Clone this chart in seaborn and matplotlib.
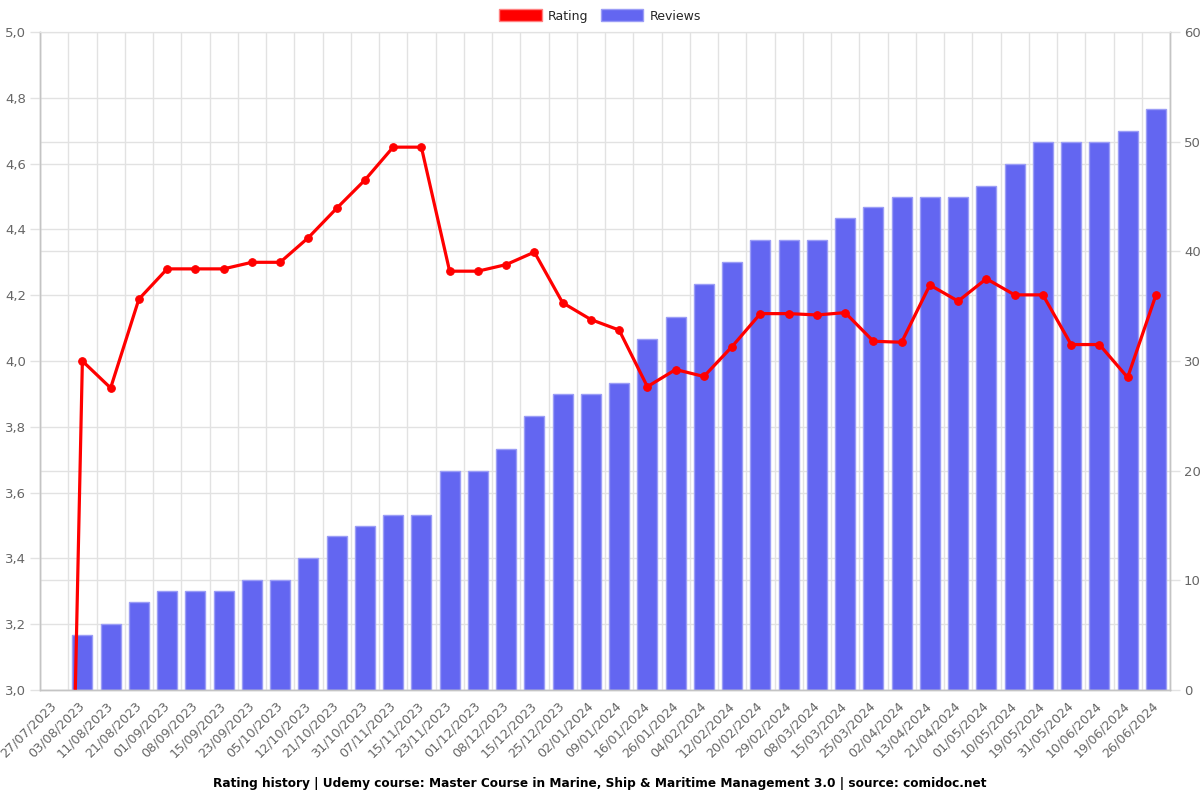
import numpy as np
import pandas as pd
import matplotlib
matplotlib.use("Agg")
import matplotlib.pyplot as plt
from matplotlib.patches import Patch
from matplotlib.ticker import FuncFormatter
import seaborn as sns

# Data
dates = ["27/07/2023", "03/08/2023", "11/08/2023", "21/08/2023", "01/09/2023",
         "08/09/2023", "15/09/2023", "23/09/2023", "05/10/2023", "12/10/2023",
         "21/10/2023", "31/10/2023", "07/11/2023", "15/11/2023", "23/11/2023",
         "01/12/2023", "08/12/2023", "15/12/2023", "25/12/2023", "02/01/2024",
         "09/01/2024", "16/01/2024", "26/01/2024", "04/02/2024", "12/02/2024",
         "20/02/2024", "29/02/2024", "08/03/2024", "15/03/2024", "25/03/2024",
         "02/04/2024", "13/04/2024", "21/04/2024", "01/05/2024", "10/05/2024",
         "19/05/2024", "31/05/2024", "10/06/2024", "19/06/2024", "26/06/2024"]

reviews = [0, 5, 6, 8, 9, 9, 9, 10, 10, 12,
           14, 15, 16, 16, 20, 20, 22, 25, 27, 27,
           28, 32, 34, 37, 39, 41, 41, 41, 43, 44,
           45, 45, 45, 46, 48, 50, 50, 50, 51, 53]

rating = [0.0, 4.0, 3.918, 4.188, 4.28, 4.28, 4.28, 4.30, 4.30, 4.375,
          4.464, 4.55, 4.65, 4.65, 4.273, 4.273, 4.293, 4.331, 4.177, 4.126,
          4.094, 3.922, 3.974, 3.953, 4.044, 4.144, 4.144, 4.140, 4.147, 4.060,
          4.057, 4.231, 4.182, 4.250, 4.201, 4.201, 4.05, 4.05, 3.950, 4.20]

title = ("Rating history | Udemy course: Master Course in Marine, Ship & "
         "Maritime Management 3.0 | source: comidoc.net")

bar_color = "#6366f1"
bar_edge = "#9b9df6"
line_color = "#ff0000"
grid_color = "#e2e2e2"
axis_color = "#c4c4c4"
text_color = "#666666"

sns.set_style("whitegrid")
plt.rcParams["font.family"] = ["DejaVu Sans"]

df = pd.DataFrame({"date": dates, "reviews": reviews, "rating": rating})
n = len(df)

fig, ax = plt.subplots(figsize=(12, 8), dpi=100)
fig.subplots_adjust(left=40 / 1200, right=1170 / 1200,
                    bottom=1 - 690 / 800, top=1 - 32 / 800)

# Reviews as bars (bottom axes, scale on the right)
sns.barplot(data=df, x="date", y="reviews", color=bar_color, saturation=1,
            width=0.7, edgecolor=bar_edge, linewidth=1, ax=ax, zorder=2)
# empty bars should not leave an edge line on the axis
for p in ax.patches:
    if p.get_height() == 0:
        p.set_linewidth(0)
ax.set_xlim(-0.5, n - 0.5)
ax.set_ylim(0, 60)
ax.set_yticks(range(0, 61, 10))
ax.set_yticks(np.linspace(0, 60, 11), minor=True)  # rating gridlines
ax.set_xticks(np.arange(n + 1) - 0.5, minor=True)
ax.set_xlabel("")
ax.set_ylabel("")
ax.grid(False)
ax.grid(True, which="major", axis="y", color=grid_color, lw=1, zorder=0)
ax.grid(True, which="minor", axis="both", color=grid_color, lw=1, zorder=0)
ax.set_axisbelow(True)
for lab in ax.get_xticklabels():
    lab.set_rotation(45)
    lab.set_ha("right")
    lab.set_rotation_mode("anchor")
    lab.set_va("center")

# Rating as a line (twin axes, scale on the left)
ax_r = ax.twinx()
sns.lineplot(data=df, x="date", y="rating", color=line_color, lw=2.3,
             marker="o", markersize=5.5, markeredgecolor=line_color,
             sort=False, errorbar=None, legend=False, ax=ax_r)
ax_r.set_ylim(3, 5)
ax_r.set_xlim(-0.5, n - 0.5)
ax_r.set_yticks(np.arange(3.0, 5.01, 0.2))
ax_r.yaxis.set_major_formatter(FuncFormatter(lambda v, p: f"{v:.1f}".replace(".", ",")))
ax_r.grid(False)
ax_r.set_xlabel("")
ax_r.set_ylabel("")

# swap sides after twinx (twinx resets the original to the left)
ax.yaxis.tick_right()
ax.yaxis.set_label_position("right")
ax_r.yaxis.tick_left()
ax_r.yaxis.set_label_position("left")

ax.tick_params(axis="x", which="major", length=0, pad=10, labelsize=9.2,
               labelcolor=text_color)
ax.tick_params(axis="x", which="minor", length=7, color=grid_color, width=1)
ax.tick_params(axis="y", which="major", length=7, color=grid_color, width=1,
               labelsize=9.5, labelcolor=text_color, pad=3)
ax.tick_params(axis="y", which="minor", length=0)
ax_r.tick_params(axis="y", length=7, color=grid_color, width=1,
                 labelsize=9.5, labelcolor=text_color, pad=3)

for a in (ax, ax_r):
    for side in ("left", "right", "bottom"):
        a.spines[side].set_color(axis_color)
        a.spines[side].set_linewidth(1)
    a.spines["top"].set_color(grid_color)

handles = [Patch(facecolor=line_color, edgecolor="#ff8080", lw=1, label="Rating"),
           Patch(facecolor=bar_color, edgecolor=bar_edge, lw=1, label="Reviews")]
fig.legend(handles=handles, loc="center", bbox_to_anchor=(0.5, 1 - 16 / 800),
           ncol=2, frameon=False, fontsize=9, handlelength=3.4,
           handleheight=1.1, handletextpad=0.5, columnspacing=1.0)

fig.text(0.5, 1 - 783 / 800, title, ha="center", va="center",
         fontsize=8.7, fontweight="bold", color="black")

fig.savefig("out.png", dpi=100)
